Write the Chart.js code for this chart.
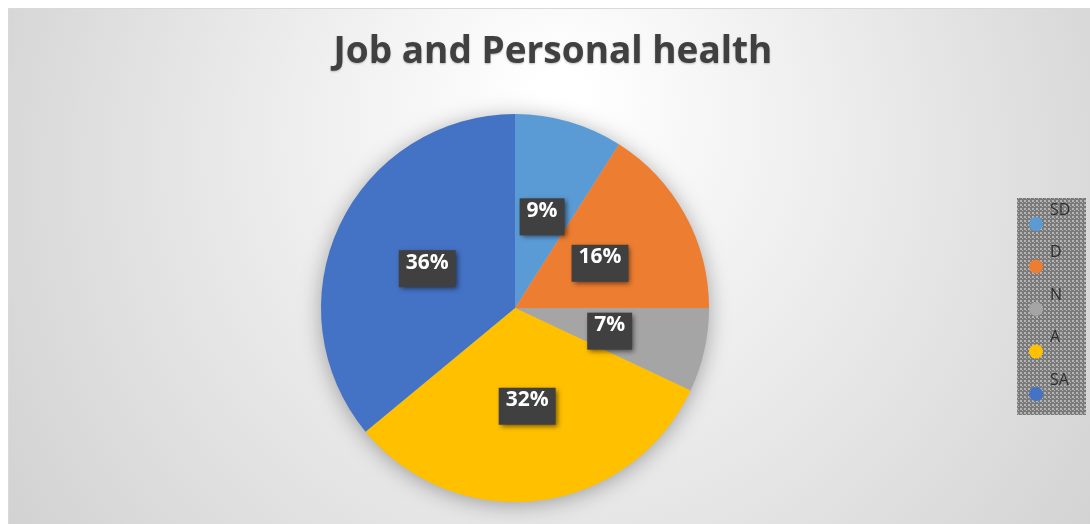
<!DOCTYPE html>
<html>
<head>
<meta charset="utf-8">
<script src="https://cdn.jsdelivr.net/npm/chart.js@4.4.0/dist/chart.umd.min.js"></script>
<style>
  html, body { margin: 0; padding: 0; background: #ffffff; }
  #wrap { position: relative; width: 1090px; height: 524px; }
  canvas { display: block; }
</style>
</head>
<body>
<div id="wrap"><canvas id="c" width="1090" height="524"></canvas></div>
<script>
// ---- data ----
const chartTitle = 'Job and Personal health';
const categories = ['SD', 'D', 'N', 'A', 'SA'];
const shares = [9, 16, 7, 32, 36];
const sliceColors = ['#5B9BD5', '#ED7D31', '#A5A5A5', '#FFC000', '#4472C4'];

// background + frame
const backgroundPlugin = {
  id: 'bg',
  beforeDraw(chart) {
    const ctx = chart.ctx;
    ctx.save();
    ctx.fillStyle = '#ffffff';
    ctx.fillRect(0, 0, chart.width, chart.height);
    const g = ctx.createRadialGradient(560, 90, 20, 560, 200, 640);
    g.addColorStop(0, '#ffffff');
    g.addColorStop(0.35, '#f0f0f0');
    g.addColorStop(1, '#d2d2d2');
    ctx.fillStyle = g;
    ctx.fillRect(8, 8, chart.width - 8, chart.height - 8);
    ctx.strokeStyle = '#d9d9d9';
    ctx.lineWidth = 1;
    ctx.beginPath();
    ctx.moveTo(8.5, chart.height);
    ctx.lineTo(8.5, 8.5);
    ctx.lineTo(chart.width, 8.5);
    ctx.stroke();
    ctx.restore();
  },
  beforeDatasetsDraw(chart) {
    // soft shadow below the pie
    const arc = chart.getDatasetMeta(0).data[0];
    if (!arc) return;
    const ctx = chart.ctx;
    ctx.save();
    ctx.shadowColor = 'rgba(0,0,0,0.35)';
    ctx.shadowBlur = 22;
    ctx.shadowOffsetY = 3;
    ctx.fillStyle = '#bbbbbb';
    ctx.beginPath();
    ctx.arc(arc.x, arc.y, arc.outerRadius - 1, 0, Math.PI * 2);
    ctx.fill();
    ctx.restore();
  },
  afterDraw(chart) {
    const ctx = chart.ctx;
    ctx.save();
    ctx.font = '700 37px "Open Sans"';
    ctx.textAlign = 'center';
    ctx.textBaseline = 'middle';
    ctx.shadowColor = 'rgba(0,0,0,0.25)';
    ctx.shadowBlur = 2;
    ctx.shadowOffsetY = 1;
    ctx.fillStyle = '#404040';
    ctx.fillText(chartTitle, 553, 52);
    ctx.restore();
  }
};

// data labels in dark boxes
const labelPlugin = {
  id: 'boxLabels',
  afterDatasetsDraw(chart) {
    const ctx = chart.ctx;
    const meta = chart.getDatasetMeta(0);
    const data = chart.data.datasets[0].data;
    ctx.save();
    ctx.font = '700 21px "Open Sans"';
    ctx.textAlign = 'center';
    ctx.textBaseline = 'middle';
    meta.data.forEach((arc, i) => {
      const p = arc.tooltipPosition();
      const txt = data[i] + '%';
      const w = ctx.measureText(txt).width + 14;
      const h = 37;
      ctx.save();
      ctx.shadowColor = 'rgba(0,0,0,0.55)';
      ctx.shadowBlur = 5;
      ctx.shadowOffsetX = 2;
      ctx.shadowOffsetY = 2;
      ctx.fillStyle = '#404040';
      ctx.fillRect(p.x - w / 2, p.y - h / 2 + 2, w, h);
      ctx.restore();
      ctx.fillStyle = '#ffffff';
      ctx.fillText(txt, p.x, p.y - 4);
    });
    ctx.restore();
  }
};

// custom legend box on the right
const legendPlugin = {
  id: 'sideLegend',
  afterDraw(chart) {
    const ctx = chart.ctx;
    const x0 = 1017, y0 = 198, w = 69, h = 217;
    // dotted grey texture
    const pc = document.createElement('canvas');
    pc.width = 4; pc.height = 4;
    const pctx = pc.getContext('2d');
    pctx.fillStyle = '#7a7a7a';
    pctx.fillRect(0, 0, 4, 4);
    pctx.fillStyle = '#b4b4b4';
    pctx.fillRect(0, 0, 2, 2);
    pctx.fillRect(2, 2, 1, 1);
    ctx.save();
    ctx.fillStyle = ctx.createPattern(pc, 'repeat');
    ctx.fillRect(x0, y0, w, h);
    const labels = chart.data.labels;
    const colors = chart.data.datasets[0].backgroundColor;
    labels.forEach((lab, i) => {
      const my = 224 + i * 42.5;
      ctx.beginPath();
      ctx.fillStyle = colors[i];
      ctx.arc(1036, my, 7, 0, Math.PI * 2);
      ctx.fill();
      ctx.fillStyle = '#2e2e2e';
      ctx.font = '16px "Open Sans"';
      ctx.textAlign = 'left';
      ctx.textBaseline = 'middle';
      ctx.fillText(lab, 1050, my - 14);
    });
    ctx.restore();
  }
};

new Chart(document.getElementById('c'), {
  type: 'pie',
  data: {
    labels: categories,
    datasets: [{
      data: shares,
      backgroundColor: sliceColors,
      borderWidth: 0,
      hoverOffset: 0,
      offset: 0
    }]
  },
  options: {
    responsive: false,
    animation: false,
    events: [],
    layout: { padding: { top: 114, bottom: 22, left: 0, right: 60 } },
    plugins: {
      legend: { display: false },
      title: { display: false },
      tooltip: { enabled: false }
    }
  },
  plugins: [backgroundPlugin, labelPlugin, legendPlugin]
});
</script>
</body>
</html>
